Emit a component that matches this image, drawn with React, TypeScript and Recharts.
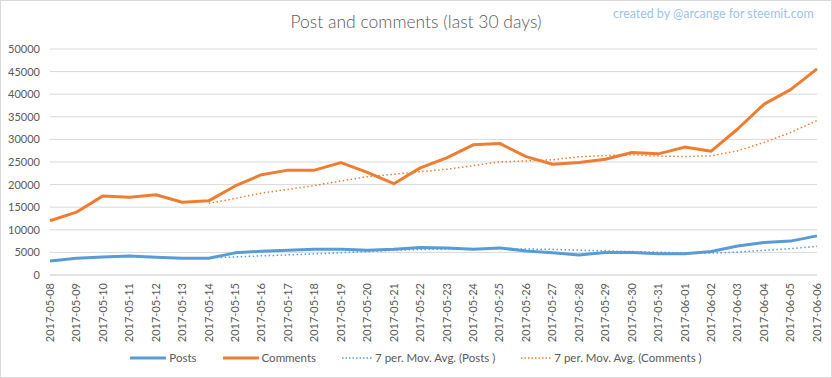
import React from "react";
import { LineChart, Line, XAxis, YAxis, CartesianGrid } from "recharts";

const dates = [
  "2017-05-08", "2017-05-09", "2017-05-10", "2017-05-11", "2017-05-12",
  "2017-05-13", "2017-05-14", "2017-05-15", "2017-05-16", "2017-05-17",
  "2017-05-18", "2017-05-19", "2017-05-20", "2017-05-21", "2017-05-22",
  "2017-05-23", "2017-05-24", "2017-05-25", "2017-05-26", "2017-05-27",
  "2017-05-28", "2017-05-29", "2017-05-30", "2017-05-31", "2017-06-01",
  "2017-06-02", "2017-06-03", "2017-06-04", "2017-06-05", "2017-06-06",
];

const posts = [
  3100, 3700, 4000, 4200, 3900, 3700, 3700, 4900, 5250, 5500,
  5700, 5700, 5500, 5700, 6100, 6000, 5700, 6000, 5300, 4900,
  4400, 5000, 5000, 4700, 4700, 5200, 6400, 7200, 7500, 8650,
];

const comments = [
  12000, 13900, 17500, 17200, 17750, 16100, 16400, 19700, 22200, 23200,
  23200, 24850, 22700, 20200, 23700, 25900, 28800, 29100, 26200, 24500,
  24900, 25600, 27100, 26800, 28300, 27400, 32300, 37800, 41000, 45600,
];

// 7 period moving averages, as drawn (start on the 7th day)
const postsAvg = [
  null, null, null, null, null, null, 3760, 4010, 4240, 4450,
  4660, 4920, 5180, 5460, 5640, 5740, 5770, 5810, 5760, 5670,
  5490, 5330, 5190, 5040, 4860, 4840, 5060, 5460, 5810, 6340,
];

const commentsAvg = [
  null, null, null, null, null, null, 15840, 16940, 18120, 18940,
  19790, 20810, 21750, 22290, 22860, 23390, 24190, 25040, 25230, 25490,
  26160, 26430, 26600, 26310, 26200, 26370, 27490, 29330, 31530, 34170,
];

const yTicks = [0, 5000, 10000, 15000, 20000, 25000, 30000, 35000, 40000, 45000, 50000];

const data = dates.map((d, i) => ({
  date: d,
  posts: posts[i],
  comments: comments[i],
  postsAvg: postsAvg[i],
  commentsAvg: commentsAvg[i],
}));

const BLUE = "#5b9bd5";
const ORANGE = "#ed7d31";
const TEXT = "#595959";
const FONT = "Lato, sans-serif";

const DateTick = ({ x, y, payload }: any) => (
  <text
    x={x}
    y={y}
    transform={`rotate(-90, ${x}, ${y})`}
    textAnchor="end"
    dy="0.35em"
    fill={TEXT}
    fontSize={11}
    fontFamily={FONT}
  >
    {payload.value}
  </text>
);

const legendItems = [
  { label: "Posts", color: BLUE, dotted: false },
  { label: "Comments", color: ORANGE, dotted: false },
  { label: "7 per. Mov. Avg. (Posts )", color: BLUE, dotted: true },
  { label: "7 per. Mov. Avg. (Comments )", color: ORANGE, dotted: true },
];

const App: React.FC = () => {
  return (
    <div
      style={{
        position: "absolute",
        left: 0,
        top: 0,
        width: 832,
        height: 378,
        background: "#fff",
        fontFamily: FONT,
      }}
    >
      <LineChart
        width={832}
        height={378}
        data={data}
        margin={{ top: 49, right: 15, left: 0, bottom: 28 }}
      >
        <CartesianGrid vertical={false} stroke="#d9d9d9" />
        <XAxis
          dataKey="date"
          interval={0}
          height={75}
          tickLine={false}
          axisLine={{ stroke: "#d9d9d9" }}
          tick={<DateTick />}
        />
        <YAxis
          width={50}
          domain={[0, 50000]}
          ticks={yTicks}
          interval={0}
          axisLine={false}
          tickLine={false}
          tickMargin={4}
          tick={{ fontSize: 11, fill: TEXT, fontFamily: FONT }}
        />
        <Line
          dataKey="posts"
          stroke={BLUE}
          strokeWidth={3}
          dot={false}
          strokeLinejoin="round"
          isAnimationActive={false}
        />
        <Line
          dataKey="comments"
          stroke={ORANGE}
          strokeWidth={3}
          dot={false}
          strokeLinejoin="round"
          isAnimationActive={false}
        />
        <Line
          dataKey="postsAvg"
          stroke={BLUE}
          strokeWidth={1.5}
          strokeDasharray="1.5 2.5"
          dot={false}
          isAnimationActive={false}
        />
        <Line
          dataKey="commentsAvg"
          stroke={ORANGE}
          strokeWidth={1.5}
          strokeDasharray="1.5 2.5"
          dot={false}
          isAnimationActive={false}
        />
      </LineChart>

      <div
        style={{
          position: "absolute",
          left: 0,
          top: 11,
          width: 832,
          textAlign: "center",
          fontSize: 17.5,
          color: TEXT,
          fontWeight: 300,
        }}
      >
        Post and comments (last 30 days)
      </div>
      <div
        style={{
          position: "absolute",
          left: 613,
          top: 6,
          fontSize: 12.4,
          color: "#9dc3e6",
          whiteSpace: "nowrap",
        }}
      >
        created by @arcange for steemit.com
      </div>

      <div
        style={{
          position: "absolute",
          left: 0,
          top: 350,
          width: 832,
          display: "flex",
          justifyContent: "center",
          gap: 26,
          fontSize: 11.5,
          color: TEXT,
        }}
      >
        {legendItems.map((it) => (
          <div key={it.label} style={{ display: "flex", alignItems: "center", gap: 3 }}>
            <svg width={it.dotted ? 30 : 36} height={6}>
              <line
                x1={0}
                y1={3}
                x2={it.dotted ? 30 : 36}
                y2={3}
                stroke={it.color}
                strokeWidth={it.dotted ? 1.5 : 3}
                strokeDasharray={it.dotted ? "1.5 2" : undefined}
              />
            </svg>
            <span style={{ lineHeight: "16px" }}>{it.label}</span>
          </div>
        ))}
      </div>

      <div
        style={{
          position: "absolute",
          left: 0,
          top: 0,
          width: 832,
          height: 378,
          boxSizing: "border-box",
          border: "1px solid #d9d9d9",
          pointerEvents: "none",
        }}
      />
    </div>
  );
};

export default App;
